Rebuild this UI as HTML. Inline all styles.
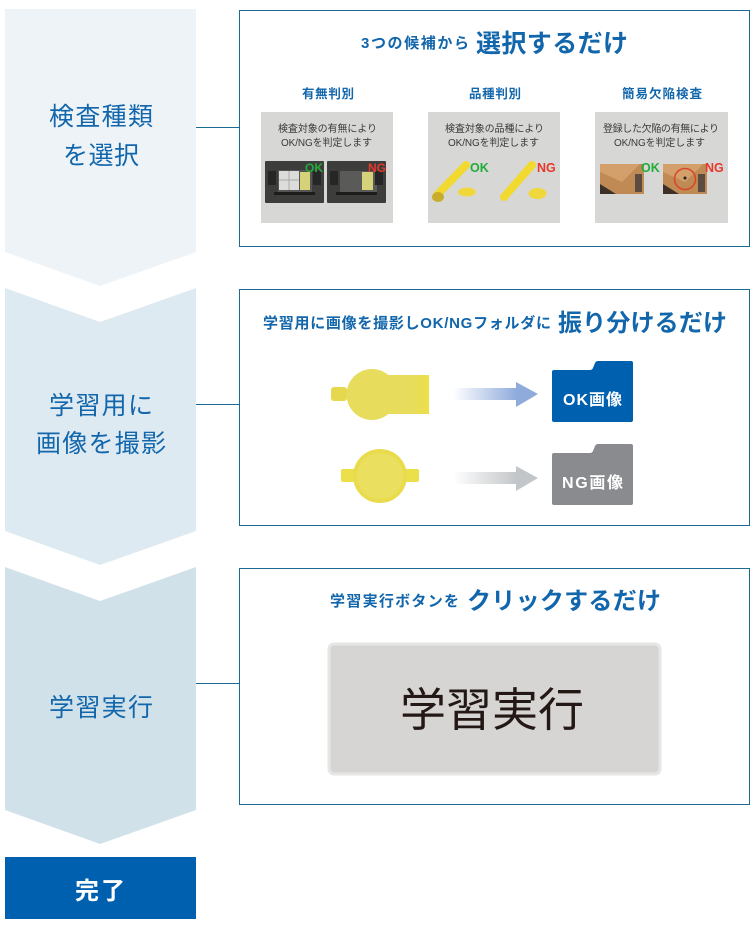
<!DOCTYPE html>
<html lang="ja">
<head>
<meta charset="utf-8">
<title>学習フロー</title>
<style>
html,body{margin:0;padding:0;background:#fff}
svg{display:block}
text{font-family:"Liberation Sans","Noto Sans CJK JP",sans-serif}
.b{font-weight:700;fill:#1266ab}
.l{font-size:25px;fill:#1266ab;font-weight:400}
.s{font-size:10px;fill:#3a3a3a}
</style>
</head>
<body>
<svg width="755" height="925" viewBox="0 0 755 925" xmlns="http://www.w3.org/2000/svg">
<defs>
<linearGradient id="ga" x1="0" x2="1" y1="0" y2="0"><stop offset="0" stop-color="#8fabdc" stop-opacity="0"/><stop offset="1" stop-color="#8fabdc"/></linearGradient>
<linearGradient id="gb" x1="0" x2="1" y1="0" y2="0"><stop offset="0" stop-color="#c3c6c8" stop-opacity="0"/><stop offset="1" stop-color="#c3c6c8"/></linearGradient>
<linearGradient id="gy" x1="0" x2="1" y1="0" y2="0"><stop offset="0" stop-color="#e8dc5c"/><stop offset=".7" stop-color="#e8dc5c"/><stop offset="1" stop-color="#ece04a"/></linearGradient>
</defs>

<!-- chevrons -->
<polygon points="5,9 196,9 196,252 100,286 5,252" fill="#edf3f7"/>
<polygon points="5,288 100,322 196,288 196,531 100,565 5,531" fill="#deeaf1"/>
<polygon points="5,567 100,601 196,567 196,810 100,844 5,810" fill="#d1e1ea"/>
<rect x="5" y="857" width="191" height="62" fill="#0060b0"/>

<text class="l" x="49" y="125" textLength="104">検査種類</text>
<text class="l" x="63" y="164" textLength="76">を選択</text>
<text class="l" x="49" y="414" textLength="104">学習用に</text>
<text class="l" x="36" y="452" textLength="130">画像を撮影</text>
<text class="l" x="49" y="716" textLength="104">学習実行</text>
<text x="75" y="899" font-size="24" font-weight="700" fill="#fff" textLength="50">完了</text>

<!-- connectors -->
<g stroke="#1b6a8f" stroke-width="1" fill="#fff">
<line x1="196" y1="127.5" x2="239" y2="127.5"/>
<line x1="196" y1="404.5" x2="239" y2="404.5"/>
<line x1="196" y1="683.5" x2="239" y2="683.5"/>
<rect x="239.5" y="10.5" width="510" height="236"/>
<rect x="239.5" y="289.5" width="510" height="236"/>
<rect x="239.5" y="568.5" width="510" height="236"/>
</g>

<!-- box 1 -->
<text class="b" x="361" y="48" font-size="15" textLength="108">3つの候補から</text>
<text class="b" x="476" y="52" font-size="25" textLength="152">選択するだけ</text>
<text class="b" x="302" y="98" font-size="12.5" textLength="52">有無判別</text>
<text class="b" x="469" y="98" font-size="12.5" textLength="52">品種判別</text>
<text class="b" x="622" y="98" font-size="12.5" textLength="80">簡易欠陥検査</text>

<rect x="261" y="112" width="132" height="111" fill="#d7d7d5"/>
<rect x="428" y="112" width="132" height="111" fill="#d7d7d5"/>
<rect x="595" y="112" width="133" height="111" fill="#d7d7d5"/>

<text class="s" x="278" y="132" textLength="99">検査対象の有無により</text>
<text class="s" x="281" y="146" textLength="91">OK/NGを判定します</text>
<text class="s" x="445" y="132" textLength="99">検査対象の品種により</text>
<text class="s" x="448" y="146" textLength="91">OK/NGを判定します</text>
<text class="s" x="603" y="132" textLength="116">登録した欠陥の有無により</text>
<text class="s" x="614" y="146" textLength="91">OK/NGを判定します</text>

<!-- panel 1 images -->
<rect x="265" y="161" width="59" height="42" rx="1" fill="#3d3d3c"/>
<rect x="278" y="170" width="34" height="22" fill="#555"/>
<rect x="279" y="171" width="20" height="19" fill="#dcdcda"/>
<path d="M289 171v19M279 180h20" stroke="#aaa" stroke-width="1"/>
<rect x="300" y="172" width="10" height="18" fill="#d5d27a"/>
<rect x="274" y="192" width="41" height="3" fill="#1c1c1c"/>
<rect x="268" y="171" width="8" height="14" fill="#262626"/>
<rect x="313" y="171" width="8" height="14" fill="#262626"/>
<rect x="327" y="161" width="59" height="42" rx="1" fill="#3d3d3c"/>
<rect x="340" y="171" width="37" height="21" fill="#5a5b59"/>
<rect x="362" y="172" width="11" height="18" fill="#d5d27a"/>
<rect x="336" y="192" width="41" height="3" fill="#1c1c1c"/>
<rect x="330" y="171" width="8" height="14" fill="#262626"/>
<rect x="375" y="171" width="8" height="14" fill="#262626"/>
<text x="305" y="172" font-size="12" font-weight="700" fill="#22ac38">OK</text>
<text x="368" y="172" font-size="12" font-weight="700" fill="#e83828">NG</text>

<!-- panel 2 images -->
<g stroke-linecap="round" fill="none">
<line x1="437" y1="195" x2="466" y2="165" stroke="#f1d92f" stroke-width="8"/>
<line x1="504" y1="197" x2="532" y2="165" stroke="#f1d92f" stroke-width="8"/>
</g>
<ellipse cx="438" cy="197" rx="6" ry="5" fill="#c9ac2a"/>
<ellipse cx="467" cy="192" rx="9" ry="4.5" fill="#f0d83c"/>
<ellipse cx="537.5" cy="193.5" rx="9" ry="5.5" fill="#f0d83c"/>
<text x="470" y="172" font-size="12.5" font-weight="700" fill="#22ac38">OK</text>
<text x="537" y="172" font-size="12.5" font-weight="700" fill="#e83828">NG</text>

<!-- panel 3 images -->
<polygon points="600,164 644,164 644,194 600,194" fill="#c08a55"/>
<polygon points="600,164 640,164 622,182 600,172" fill="#d3a06b"/>
<polygon points="600,184 616,194 600,194" fill="#3c3028"/>
<rect x="635" y="174" width="7" height="18" fill="#5c4c40"/>
<polygon points="663,164 707,164 707,194 663,194" fill="#c08a55"/>
<polygon points="663,164 703,164 685,182 663,172" fill="#d3a06b"/>
<polygon points="663,184 679,194 663,194" fill="#3c3028"/>
<rect x="698" y="174" width="7" height="18" fill="#5c4c40"/>
<circle cx="685" cy="179" r="10.5" fill="none" stroke="#d9472b" stroke-width="1.6"/>
<circle cx="685" cy="178" r="1.5" fill="#222"/>
<text x="641" y="172" font-size="12.5" font-weight="700" fill="#22ac38">OK</text>
<text x="705" y="172" font-size="12.5" font-weight="700" fill="#e83828">NG</text>

<!-- box 2 -->
<text class="b" x="263" y="328" font-size="15" textLength="288">学習用に画像を撮影しOK/NGフォルダに</text>
<text class="b" x="558" y="331" font-size="24" textLength="169">振り分けるだけ</text>

<rect x="331" y="387" width="16" height="14" rx="3" fill="#e6d84e"/>
<rect x="370" y="375" width="59" height="39" fill="url(#gy)"/>
<circle cx="372" cy="394.5" r="25.5" fill="#e8dc5c"/>

<rect x="341" y="469" width="78" height="13" rx="2" fill="#ece04a"/>
<circle cx="380" cy="476" r="27" fill="#e9dc4c"/>
<circle cx="380" cy="476" r="23" fill="#eadf5e"/>

<rect x="453" y="388" width="64" height="12" fill="url(#ga)"/>
<polygon points="516,382 538,394 516,407" fill="#8fabdc"/>
<rect x="453" y="472" width="64" height="12" fill="url(#gb)"/>
<polygon points="516,466 538,478 516,491" fill="#c3c6c8"/>

<path d="M554 370H590Q592 370 593 368L595 363Q596 361 598 361H631Q633 361 633 363V420Q633 422 631 422H554Q552 422 552 420V372Q552 370 554 370Z" fill="#0060b0"/>
<text x="563" y="405" font-size="16" font-weight="700" fill="#fff" textLength="59">OK画像</text>
<path d="M554 453H590Q592 453 593 451L595 446Q596 444 598 444H631Q633 444 633 446V503Q633 505 631 505H554Q552 505 552 503V455Q552 453 554 453Z" fill="#898b8e"/>
<text x="562" y="488" font-size="16" font-weight="700" fill="#fff" textLength="61">NG画像</text>

<!-- box 3 -->
<text class="b" x="330" y="606" font-size="15" textLength="129">学習実行ボタンを</text>
<text class="b" x="467" y="609" font-size="24" textLength="194">クリックするだけ</text>
<rect x="329" y="644" width="331" height="130" rx="5" fill="#d6d5d3" stroke="#e6e6e5" stroke-width="3"/>
<text x="400" y="726" font-size="46" fill="#231815" textLength="184">学習実行</text>
</svg>
</body>
</html>
